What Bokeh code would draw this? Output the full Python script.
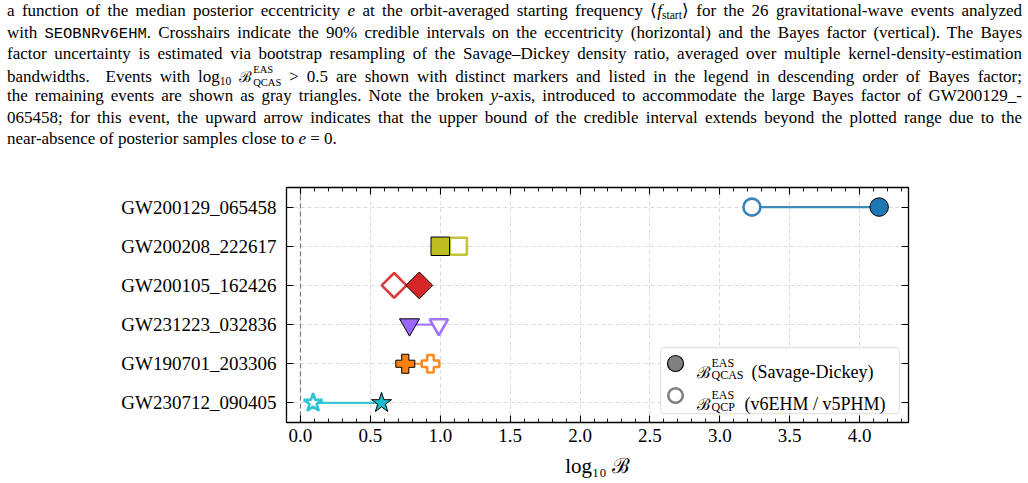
import math

from bokeh.embed import file_html
from bokeh.layouts import column
from bokeh.models import (BoxAnnotation, ColumnDataSource, CustomJSTickFormatter, Div,
                          FixedTicker, Label, LinearAxis, NumeralTickFormatter, Range1d,
                          SingleIntervalTicker, Span)
from bokeh.plotting import figure
from bokeh.resources import INLINE

# ---------------------------------------------------------------- data
# Events with log10 B > 0.5, in descending order of the Savage-Dickey Bayes factor
events = [
    "GW200129_065458",
    "GW200208_222617",
    "GW200105_162426",
    "GW231223_032836",
    "GW190701_203306",
    "GW230712_090405",
]
log10_bf_savage_dickey = [4.14, 1.00, 0.85, 0.78, 0.75, 0.58]
log10_bf_qcp = [3.23, 1.13, 0.67, 0.99, 0.93, 0.09]

x_tick_step = 0.5
x_limits = (-0.1, 4.35)

# ---------------------------------------------------------------- styles
event_style = {
    "GW200129_065458": dict(color="#1f77b4", marker="circle", angle=0.0, size=18.5),
    "GW200208_222617": dict(color="#bcbd22", marker="square", angle=0.0, size=18.5),
    "GW200105_162426": dict(color="#d62728", marker="square", angle=math.pi / 4, size=19.0),
    "GW231223_032836": dict(color="#9966ff", marker="inverted_triangle", angle=0.0, size=20.0),
    "GW190701_203306": dict(color="#ff7f0e", marker="plus", angle=0.0, size=19.0),
    "GW230712_090405": dict(color="#17becf", marker="star", angle=0.0, size=21.0),
}

SERIF = "Liberation Serif"
SCRIPT = "DejaVu Serif"

n_rows = len(events)
# first event on the top row
row_of = {e: n_rows - 1 - i for i, e in enumerate(events)}

source = ColumnDataSource(dict(
    event=events,
    row=[row_of[e] for e in events],
    sd=log10_bf_savage_dickey,
    qcp=log10_bf_qcp,
    color=[event_style[e]["color"] for e in events],
    marker=[event_style[e]["marker"] for e in events],
    angle=[event_style[e]["angle"] for e in events],
    size=[event_style[e]["size"] for e in events],
    size_open=[event_style[e]["size"] - 1.5 for e in events],
))

# ---------------------------------------------------------------- caption
def justified(html):
    return ('<div style="height:21.3px;line-height:21.3px;text-align:justify;'
            'text-align-last:justify;">' + html + '</div>')


def plain(html):
    return '<div style="height:21.3px;line-height:21.3px;text-align:left;">' + html + '</div>'


sub_css = "font-size:11.5px;vertical-align:-3px;line-height:0;"
script_b = '<span style="font-family:\'DejaVu Serif\';font-size:15px;">\u212c</span>'
stack = ('<span style="display:inline-block;vertical-align:-3.5px;line-height:12.5px;'
         'font-size:10.5px;text-align:left;margin-left:1px;">'
         '<span style="display:block;height:12.5px;">EAS</span>'
         '<span style="display:block;height:12.5px;">QCAS</span></span>')
tt = '<span style="font-family:\'Liberation Mono\',monospace;font-size:15.5px;">SEOBNRv6EHM</span>'

caption_lines = [
    justified('a function of the median posterior eccentricity <i>e</i> at the orbit-averaged '
              'starting frequency \u27e8<i>f</i><span style="' + sub_css + '">start</span>\u27e9 '
              'for the 26 gravitational-wave events analyzed'),
    justified('with ' + tt + '. Crosshairs indicate the 90% credible intervals on the eccentricity '
              '(horizontal) and the Bayes factor (vertical). The Bayes'),
    justified('factor uncertainty is estimated via bootstrap resampling of the Savage\u2013Dickey '
              'density ratio, averaged over multiple kernel-density-estimation'),
    justified('bandwidths.&nbsp; Events with log<span style="' + sub_css + '">10</span> '
              + script_b + stack + ' &gt; 0.5 are shown with distinct markers and listed in '
              'the legend in descending order of Bayes factor;'),
    justified('the remaining events are shown as gray triangles. Note the broken <i>y</i>-axis, '
              'introduced to accommodate the large Bayes factor of GW200129_-'),
    justified('065458; for this event, the upward arrow indicates that the upper bound of the '
              'credible interval extends beyond the plotted range due to the'),
    plain('near-absence of posterior samples close to <i>e</i> = 0.'),
]

caption = Div(
    text=('<div style="width:1015px;margin-left:7px;padding-top:0.3px;'
          'font-family:\'Liberation Serif\',serif;font-size:17px;color:#000;">'
          + "".join(caption_lines) + '</div>'),
    width=1028, height=160, margin=(0, 0, 0, 0),
)

# ---------------------------------------------------------------- figure
FIG_TOP = 160
FRAME_L, FRAME_R, FRAME_T, FRAME_B = 286, 908, 187, 422
y_limits = (-0.5, n_rows - 0.5)

p = figure(
    width=1028, height=323,
    x_range=Range1d(*x_limits),
    y_range=Range1d(*y_limits),
    output_backend="svg", toolbar_location=None,
    min_border_left=FRAME_L, min_border_right=1028 - FRAME_R,
    min_border_top=FRAME_T - FIG_TOP, min_border_bottom=483 - FRAME_B,
    margin=(0, 0, 0, 0),
)
p.outline_line_color = "black"
p.outline_line_width = 1.3
p.background_fill_color = "white"
p.border_fill_color = "white"

x_ticker = SingleIntervalTicker(interval=x_tick_step, num_minor_ticks=5)
y_ticker = FixedTicker(ticks=list(range(n_rows)), minor_ticks=[])
blank = CustomJSTickFormatter(code="return ''")


def style_axis(ax):
    ax.axis_line_color = None
    ax.major_tick_in = 7
    ax.major_tick_out = 0
    ax.minor_tick_in = 4
    ax.minor_tick_out = 0
    ax.major_tick_line_color = "black"
    ax.major_tick_line_width = 1.1
    ax.minor_tick_line_color = "black"
    ax.minor_tick_line_width = 0.9
    ax.major_label_text_font = SERIF
    ax.major_label_text_font_size = "19px"
    ax.major_label_text_color = "black"


xb = p.xaxis[0]
xb.ticker = x_ticker
xb.formatter = NumeralTickFormatter(format="0.0")
style_axis(xb)
xb.major_label_standoff = 6
xb.axis_label = "log\u2081\u2080 \u212c"
xb.axis_label_text_font = SERIF
xb.axis_label_text_font_size = "21px"
xb.axis_label_text_font_style = "normal"
xb.axis_label_text_color = "black"
xb.axis_label_standoff = 9

yl = p.yaxis[0]
yl.ticker = y_ticker
yl.major_label_overrides = {row_of[e]: e for e in events}
style_axis(yl)
yl.major_label_standoff = 10

xt = LinearAxis(ticker=x_ticker, formatter=blank)
style_axis(xt)
p.add_layout(xt, "above")

yr = LinearAxis(ticker=y_ticker, formatter=blank)
style_axis(yr)
p.add_layout(yr, "right")

for g in (p.xgrid[0], p.ygrid[0]):
    g.grid_line_color = "#d2d2d2"
    g.grid_line_dash = "4 3"
    g.grid_line_width = 0.8
p.xgrid[0].ticker = x_ticker
p.ygrid[0].ticker = y_ticker

zero_line = Span(location=0, dimension="height", line_color="#7a7a7a",
                 line_dash="5 3", line_width=1.2, level="underlay")
p.add_layout(zero_line)

# connectors between the two Bayes-factor estimates
p.segment(x0="qcp", y0="row", x1="sd", y1="row", source=source,
          line_color="color", line_width=2.2, line_alpha=0.85)
# quasi-circular-prior estimate: open markers
p.scatter(x="qcp", y="row", source=source, marker="marker", angle="angle",
          size="size_open", fill_color="white", line_color="color", line_width=2.6,
          line_alpha=0.9)
# Savage-Dickey estimate: filled markers
p.scatter(x="sd", y="row", source=source, marker="marker", angle="angle",
          size="size", fill_color="color", line_color="black", line_width=1)


# ---------------------------------------------------------------- legend
def dx(px):
    return x_limits[0] + (px - FRAME_L) * (x_limits[1] - x_limits[0]) / (FRAME_R - FRAME_L)


def dy(py):
    return y_limits[0] + (FRAME_B - py) * (y_limits[1] - y_limits[0]) / (FRAME_B - FRAME_T)


legend_box = BoxAnnotation(left=dx(660), right=dx(899), bottom=dy(413), top=dy(347),
                           fill_color="white", fill_alpha=0.9,
                           line_color="#a8a8a8", line_width=1.3, border_radius=4,
                           level="underlay")
p.add_layout(legend_box)

key_x = dx(675)
p.scatter(x=[key_x], y=[dy(363)], marker="circle", size=16,
          fill_color="#808080", line_color="black", line_width=1.2)
p.scatter(x=[key_x], y=[dy(395)], marker="circle", size=14.5,
          fill_color="white", line_color="#808080", line_width=2.6)


def text(txt, px, py, size, font=SERIF, style="normal"):
    p.add_layout(Label(x=dx(px), y=dy(py), text=txt,
                       text_font=font, text_font_size=size, text_font_style=style,
                       text_color="black", text_align="left", text_baseline="alphabetic"))


for row_py, sup, sub, desc, desc_px in (
    (0, "EAS", "QCAS", "(Savage-Dickey)", 751),
    (32, "EAS", "QCP", "(v6EHM / v5PHM)", 744),
):
    text("\u212c", 696, 372 + row_py, "16px", SCRIPT)
    text(sup, 711, 362 + row_py, "12px")
    text(sub, 711, 374 + row_py, "12px")
    text(desc, desc_px, 371 + row_py, "18px")

layout = column(caption, p, margin=(0, 0, 0, 0), spacing=0)

with open("out.html", "w") as f:
    f.write(file_html(layout, INLINE))
